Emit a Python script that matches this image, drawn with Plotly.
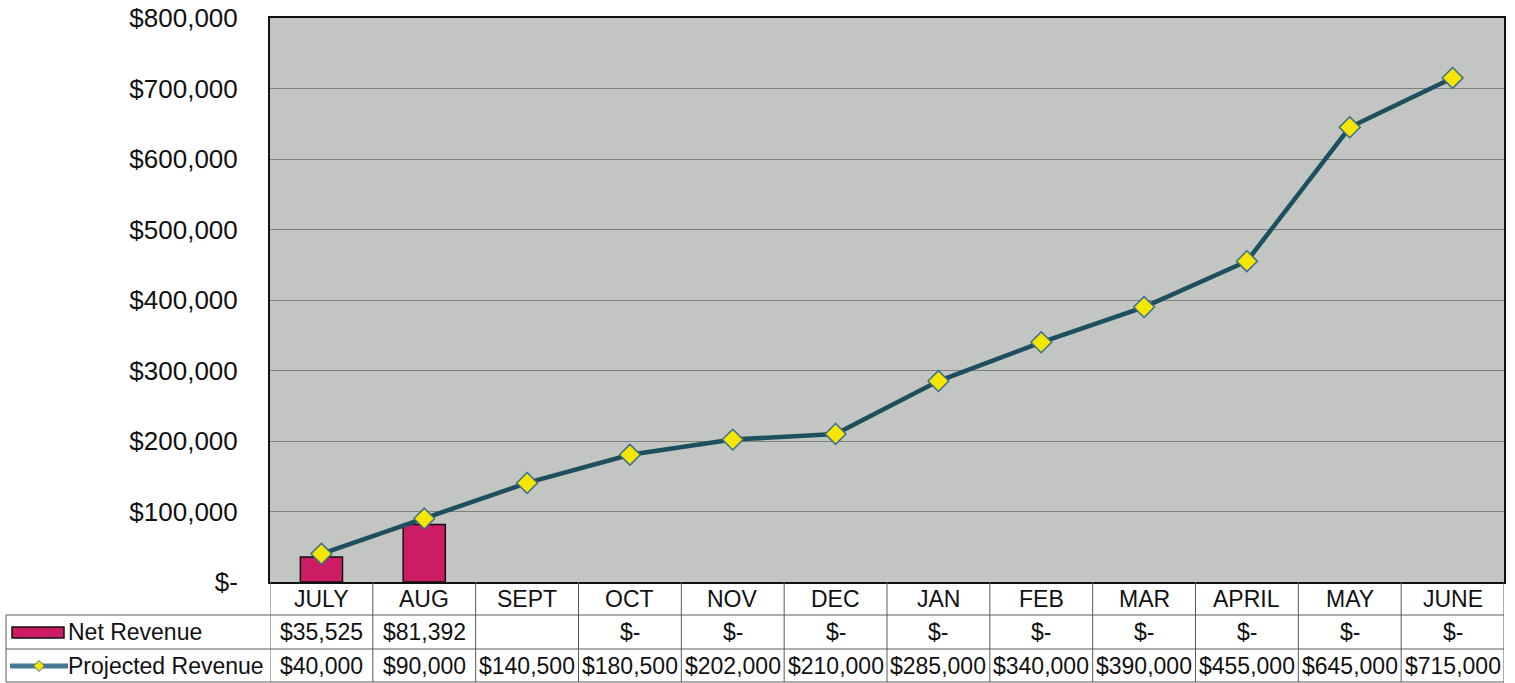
import plotly.graph_objects as go

months = ["JULY", "AUG", "SEPT", "OCT", "NOV", "DEC", "JAN", "FEB", "MAR", "APRIL", "MAY", "JUNE"]
net_revenue = [35525, 81392, None, 0, 0, 0, 0, 0, 0, 0, 0, 0]
projected_revenue = [40000, 90000, 140500, 180500, 202000, 210000, 285000, 340000, 390000, 455000, 645000, 715000]
y_tick_values = [0, 100000, 200000, 300000, 400000, 500000, 600000, 700000, 800000]
y_tick_labels = ["$-", "$100,000", "$200,000", "$300,000", "$400,000", "$500,000", "$600,000", "$700,000", "$800,000"]
series_names = ["Net Revenue", "Projected Revenue"]

W, H = 1515, 683
L, R, T, B = 270, 11, 18, 101
PW, PH = W - L - R, H - T - B
BAR_COLOR = "#CC1C64"
LINE_COLOR = "#1E4F5E"
MARKER_COLOR = "#F4E600"
MARKER_EDGE = "#3C6E8E"
FONT = "Arial, Liberation Sans, sans-serif"
TABLE_LINE = "#5a5a5a"


def px_x(p):
    return (p - L) / PW


def px_y(p):
    return (T + PH - p) / PH


def money(v):
    if v is None:
        return ""
    if v == 0:
        return "$-"
    return "${:,.0f}".format(v)


fig = go.Figure()
fig.add_trace(go.Bar(
    x=months, y=[v if v else None for v in net_revenue], name=series_names[0],
    marker=dict(color=BAR_COLOR, line=dict(color="#111111", width=1.5)),
    width=0.41,
))
fig.add_trace(go.Scatter(
    x=months, y=projected_revenue, name=series_names[1], mode="lines+markers",
    line=dict(color=LINE_COLOR, width=4.5),
    marker=dict(symbol="diamond", size=16, color=MARKER_COLOR, line=dict(color=MARKER_EDGE, width=1.5)),
))

shapes = []
for i in range(len(months) + 1):
    shapes.append(dict(type="line", xref="x", yref="paper", x0=i - 0.5, x1=i - 0.5,
                       y0=0, y1=px_y(682), line=dict(color=TABLE_LINE, width=1)))
for yy in (615, 649, 682):
    shapes.append(dict(type="line", xref="paper", yref="paper", x0=px_x(6), x1=1,
                       y0=px_y(yy), y1=px_y(yy), line=dict(color=TABLE_LINE, width=1)))
shapes.append(dict(type="line", xref="paper", yref="paper", x0=px_x(6), x1=px_x(6),
                   y0=px_y(615), y1=px_y(682), line=dict(color=TABLE_LINE, width=1)))
shapes.append(dict(type="rect", xref="paper", yref="paper", x0=px_x(12), x1=px_x(64),
                   y0=px_y(638), y1=px_y(627), fillcolor=BAR_COLOR,
                   line=dict(color="#111111", width=1.5)))
shapes.append(dict(type="line", xref="paper", yref="paper", x0=px_x(10), x1=px_x(68),
                   y0=px_y(666), y1=px_y(666), line=dict(color="#477891", width=5)))
cx, cy, d = 39, 666, 5.5
shapes.append(dict(type="path", xref="paper", yref="paper",
                   path="M {} {} L {} {} L {} {} L {} {} Z".format(
                       px_x(cx - d), px_y(cy), px_x(cx), px_y(cy - d),
                       px_x(cx + d), px_y(cy), px_x(cx), px_y(cy + d)),
                   fillcolor=MARKER_COLOR, line=dict(color=MARKER_EDGE, width=1)))

annotations = []
tf = dict(family=FONT, size=23, color="#111111")
for i, m in enumerate(months):
    annotations.append(dict(x=m, xref="x", y=px_y(599), yref="paper", text=m,
                            showarrow=False, font=tf, xanchor="center", yanchor="middle"))
    annotations.append(dict(x=m, xref="x", y=px_y(632), yref="paper", text=money(net_revenue[i]),
                            showarrow=False, font=tf, xanchor="center", yanchor="middle"))
    annotations.append(dict(x=m, xref="x", y=px_y(666), yref="paper", text=money(projected_revenue[i]),
                            showarrow=False, font=tf, xanchor="center", yanchor="middle"))
annotations.append(dict(x=px_x(66), xref="paper", y=px_y(632), yref="paper", text=series_names[0],
                        showarrow=False, font=tf, xanchor="left", yanchor="middle"))
annotations.append(dict(x=px_x(66), xref="paper", y=px_y(666), yref="paper", text=series_names[1],
                        showarrow=False, font=tf, xanchor="left", yanchor="middle"))

fig.update_layout(
    width=W, height=H,
    margin=dict(l=L, r=R, t=T, b=B, autoexpand=False),
    paper_bgcolor="white",
    plot_bgcolor="#C2C5C2",
    showlegend=False,
    shapes=shapes,
    annotations=annotations,
    font=dict(family=FONT, color="#111111"),
)
fig.update_xaxes(
    type="category", range=[-0.5, len(months) - 0.5], showticklabels=False, ticks="",
    showgrid=False, showline=True, mirror=True, linecolor="#111111", linewidth=2, zeroline=False,
    automargin=False,
)
fig.update_yaxes(
    range=[0, 800000], tickvals=y_tick_values, ticktext=y_tick_labels,
    tickfont=dict(family=FONT, size=26, color="#111111"),
    ticks="", ticklabelstandoff=25,
    showgrid=True, gridcolor="#7d7f7d", gridwidth=1,
    showline=True, mirror=True, linecolor="#111111", linewidth=2, zeroline=False,
    automargin=False,
)

fig.write_html("out.html")
